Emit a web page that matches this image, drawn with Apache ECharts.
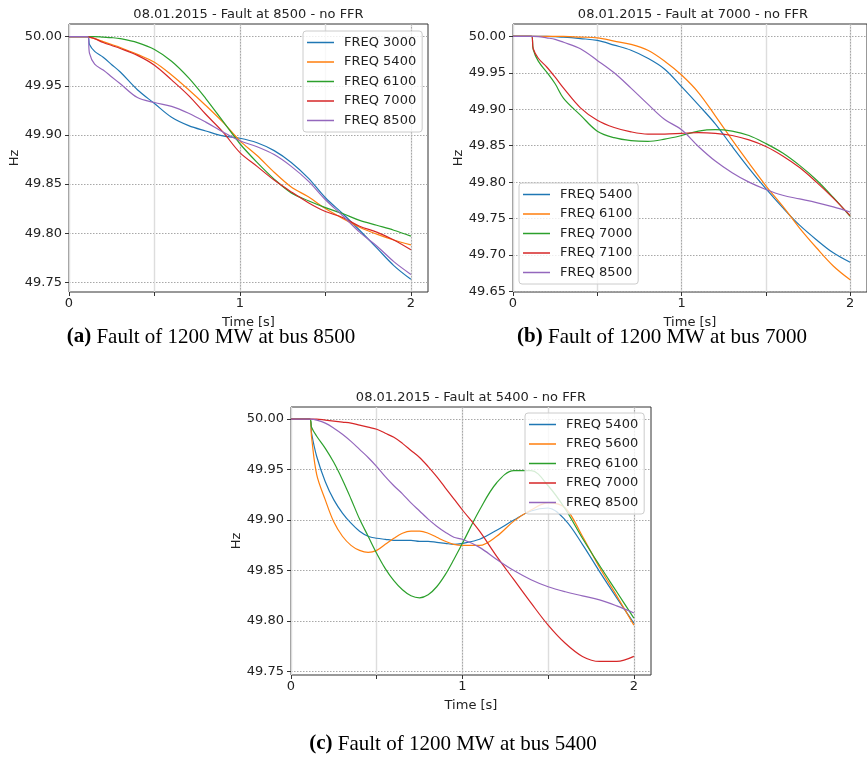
<!DOCTYPE html>
<html>
<head>
<meta charset="utf-8">
<script src="https://cdn.jsdelivr.net/npm/echarts@6/dist/echarts.min.js"></script>
<style>
html,body{margin:0;padding:0;background:#fff;}
#main{width:867px;height:762px;}
</style>
</head>
<body>
<div id="main"></div>
<script>
// ---------- data ----------
const timesA = [0,0.11,0.12,0.15,0.2,0.25,0.3,0.4,0.5,0.6,0.7,0.8,0.9,1.0,1.1,1.2,1.3,1.4,1.5,1.6,1.7,1.8,1.9,2.0];
const freqA3000 = [50,50,49.992,49.985,49.979,49.9715,49.964,49.946,49.932,49.918,49.9095,49.904,49.899,49.8966,49.892,49.884,49.872,49.856,49.836,49.820,49.803,49.785,49.767,49.753];
const freqA5400 = [50,50,49.9995,49.998,49.995,49.992,49.989,49.982,49.974,49.961,49.946,49.930,49.913,49.894,49.879,49.862,49.847,49.837,49.825,49.815,49.806,49.799,49.793,49.788];
const freqA6100 = [50,50,50,50,49.9995,49.999,49.998,49.994,49.987,49.975,49.958,49.937,49.914,49.891,49.872,49.855,49.841,49.833,49.826,49.820,49.813,49.808,49.803,49.797];
const freqA7000 = [50,50,49.9995,49.998,49.994,49.991,49.988,49.981,49.971,49.956,49.940,49.921,49.903,49.882,49.868,49.854,49.842,49.831,49.822,49.816,49.807,49.801,49.793,49.783];
const freqA8500 = [50,50,49.983,49.972,49.966,49.959,49.952,49.938,49.933,49.929,49.922,49.913,49.903,49.894,49.888,49.880,49.868,49.853,49.834,49.818,49.801,49.787,49.771,49.758];

const timesB = [0,0.11,0.12,0.15,0.2,0.25,0.3,0.4,0.5,0.6,0.7,0.8,0.9,1.0,1.1,1.2,1.3,1.4,1.5,1.6,1.7,1.8,1.9,2.0];
const freqB5400 = [50,50,50,50,50,49.9995,49.999,49.997,49.9945,49.988,49.981,49.970,49.955,49.931,49.906,49.880,49.849,49.819,49.791,49.765,49.741,49.721,49.703,49.690];
const freqB6100 = [50,50,50,50,50,50,50,49.999,49.998,49.9936,49.989,49.981,49.966,49.947,49.923,49.891,49.858,49.826,49.795,49.767,49.737,49.710,49.685,49.666];
const freqB7000 = [50,50,49.982,49.966,49.951,49.935,49.915,49.892,49.870,49.861,49.857,49.856,49.859,49.864,49.870,49.872,49.870,49.864,49.853,49.840,49.823,49.803,49.779,49.753];
const freqB7100 = [50,50,49.983,49.970,49.958,49.944,49.929,49.902,49.885,49.875,49.869,49.866,49.866,49.867,49.868,49.867,49.864,49.858,49.849,49.836,49.820,49.800,49.778,49.754];
const freqB8500 = [50,50,50,49.9998,49.998,49.996,49.992,49.983,49.967,49.950,49.929,49.907,49.886,49.872,49.849,49.829,49.813,49.800,49.790,49.782,49.777,49.772,49.766,49.759];

const timesC = [0,0.11,0.12,0.15,0.2,0.25,0.3,0.35,0.4,0.45,0.5,0.55,0.6,0.65,0.7,0.75,0.8,0.85,0.9,0.95,1.0,1.1,1.2,1.3,1.4,1.5,1.6,1.7,1.8,1.9,2.0];
const freqC5400 = [50,50,49.986,49.963,49.938,49.920,49.907,49.897,49.889,49.884,49.882,49.881,49.880,49.880,49.880,49.879,49.879,49.878,49.877,49.876,49.877,49.881,49.890,49.900,49.909,49.912,49.900,49.876,49.849,49.823,49.798];
const freqC5600 = [50,50,49.982,49.945,49.920,49.898,49.884,49.875,49.870,49.868,49.870,49.876,49.882,49.887,49.889,49.889,49.887,49.883,49.879,49.876,49.875,49.875,49.884,49.899,49.910,49.917,49.912,49.884,49.853,49.825,49.796];
const freqC6100 = [50,50,49.992,49.983,49.971,49.957,49.940,49.921,49.901,49.884,49.867,49.852,49.840,49.831,49.825,49.823,49.826,49.834,49.846,49.861,49.877,49.910,49.937,49.949,49.949,49.934,49.911,49.882,49.855,49.829,49.803];
const freqC7000 = [50,50,50,50,49.999,49.998,49.997,49.996,49.994,49.992,49.990,49.986,49.982,49.976,49.969,49.962,49.953,49.943,49.932,49.921,49.910,49.889,49.864,49.841,49.818,49.796,49.778,49.765,49.760,49.760,49.765];
const freqC8500 = [50,50,50,49.999,49.996,49.991,49.985,49.978,49.970,49.962,49.953,49.943,49.934,49.926,49.917,49.909,49.901,49.894,49.888,49.883,49.881,49.873,49.861,49.850,49.841,49.834,49.829,49.825,49.821,49.815,49.808];

const namesA = ['FREQ 3000','FREQ 5400','FREQ 6100','FREQ 7000','FREQ 8500'];
const namesB = ['FREQ 5400','FREQ 6100','FREQ 7000','FREQ 7100','FREQ 8500'];
const namesC = ['FREQ 5400','FREQ 5600','FREQ 6100','FREQ 7000','FREQ 8500'];

const titleA = '08.01.2015 - Fault at 8500 - no FFR';
const titleB = '08.01.2015 - Fault at 7000 - no FFR';
const titleC = '08.01.2015 - Fault at 5400 - no FFR';

const captionA = ['(a)', 'Fault of 1200 MW at bus 8500'];
const captionB = ['(b)', 'Fault of 1200 MW at bus 7000'];
const captionC = ['(c)', 'Fault of 1200 MW at bus 5400'];

const xTickValues = [0, 0.5, 1, 1.5, 2];
const xLabelValues = [0, 1, 2];
const xMajorGrid = [1, 2];
const yTicksA = [49.75, 49.80, 49.85, 49.90, 49.95, 50.00];
const yTicksB = [49.65, 49.70, 49.75, 49.80, 49.85, 49.90, 49.95, 50.00];
const yTicksC = [49.75, 49.80, 49.85, 49.90, 49.95, 50.00];

// ---------- styling / layout ----------
const COLORS = ['#1f77b4', '#ff7f0e', '#2ca02c', '#d62728', '#9467bd'];
const FONT = 'DejaVu Sans';
const TXT = '#222';
// line-shaped legend handle (27x13 box, 1.4px line in the middle)
const LEGEND_ICON = 'path://M0,0h0.01v0.01h-0.01z M0,5.8h27v1.4h-27z M26.99,12.99h0.01v0.01h-0.01z';

const panels = [
  { key: 'a', times: timesA, series: [freqA3000, freqA5400, freqA6100, freqA7000, freqA8500], names: namesA,
    title: titleA, yTicks: yTicksA, ymin: 49.7401, ymax: 50.0129,
    grid: { left: 69, top: 24, width: 359, height: 268 },
    legend: { left: 303, top: 31 },
    caption: captionA, capPos: [211, 337] },
  { key: 'b', times: timesB, series: [freqB5400, freqB6100, freqB7000, freqB7100, freqB8500], names: namesB,
    title: titleB, yTicks: yTicksB, ymin: 49.6493, ymax: 50.0170,
    grid: { left: 513, top: 24, width: 360, height: 268 },
    legend: { left: 519, top: 183 },
    caption: captionB, capPos: [662, 337] },
  { key: 'c', times: timesC, series: [freqC5400, freqC5600, freqC6100, freqC7000, freqC8500], names: namesC,
    title: titleC, yTicks: yTicksC, ymin: 49.7466, ymax: 50.0120,
    grid: { left: 291, top: 407, width: 360, height: 268 },
    legend: { left: 525, top: 413 },
    caption: captionC, capPos: [453, 744] }
];

const option = {
  animation: false,
  backgroundColor: '#fff',
  title: [], grid: [], xAxis: [], yAxis: [], legend: [], series: [], graphic: []
};

panels.forEach((p, i) => {
  const g = p.grid;
  option.grid.push({ left: g.left, top: g.top, width: g.width, height: g.height,
    show: true, borderColor: '#333', borderWidth: 1, backgroundColor: 'transparent', containLabel: false });

  option.title.push({
    text: p.title, left: g.left + g.width / 2, top: g.top - 16, textAlign: 'center', padding: 0,
    textStyle: { fontFamily: FONT, fontSize: 13, fontWeight: 'normal', color: TXT }
  });

  // main x axis
  option.xAxis.push({
    gridIndex: i, type: 'value', min: 0, max: 2.1,
    axisLine: { show: false },
    axisTick: { show: true, customValues: xTickValues, length: 4, lineStyle: { color: '#333', width: 1 } },
    axisLabel: { show: true, customValues: xLabelValues, margin: 5, fontFamily: FONT, fontSize: 13, color: TXT,
      formatter: v => String(v) },
    splitLine: { show: true, lineStyle: { color: '#dddddd', width: 1.4 } },
    name: 'Time [s]', nameLocation: 'middle', nameGap: 24,
    nameTextStyle: { fontFamily: FONT, fontSize: 13, color: TXT }
  });
  // dotted major vertical grid overlay
  option.xAxis.push({
    gridIndex: i, type: 'value', min: 0, max: 2.1, position: 'bottom',
    axisLine: { show: false },
    axisTick: { show: false, customValues: xMajorGrid },
    axisLabel: { show: false },
    splitLine: { show: true, lineStyle: { color: '#a8a8a8', width: 1, type: [1.5, 1.5] } }
  });

  option.yAxis.push({
    gridIndex: i, type: 'value', min: p.ymin, max: p.ymax,
    axisLine: { show: false },
    axisTick: { show: true, customValues: p.yTicks, length: 4, lineStyle: { color: '#333', width: 1 } },
    axisLabel: { show: true, customValues: p.yTicks, margin: 7, fontFamily: FONT, fontSize: 13, color: TXT,
      formatter: v => v.toFixed(2) },
    splitLine: { show: true, lineStyle: { color: '#a8a8a8', width: 1, type: [1.5, 1.5] } },
    name: 'Hz', nameLocation: 'middle', nameGap: 48,
    nameTextStyle: { fontFamily: FONT, fontSize: 13, color: TXT }
  });

  const legendData = [];
  p.series.forEach((vals, k) => {
    const nm = p.key + '|' + p.names[k];
    legendData.push({ name: nm, icon: LEGEND_ICON });
    option.series.push({
      type: 'line', name: nm, xAxisIndex: i * 2, yAxisIndex: i,
      data: p.times.map((t, j) => [t, vals[j]]),
      symbol: 'none', showSymbol: false, smooth: 0.35, clip: true,
      color: COLORS[k],
      lineStyle: { color: COLORS[k], width: 1.2 },
      emphasis: { disabled: true }
    });
  });

  option.legend.push({
    orient: 'vertical', left: p.legend.left, top: p.legend.top,
    data: legendData, formatter: n => n.split('|')[1],
    icon: LEGEND_ICON,
    itemWidth: 27, itemHeight: 13, itemGap: 6.5,
    padding: [5, 6, 5, 4],
    backgroundColor: 'rgba(255,255,255,0.8)', borderColor: '#cccccc', borderWidth: 1, borderRadius: 3,
    textStyle: { fontFamily: FONT, fontSize: 13, color: TXT, padding: [0, 0, 0, 5] },
    selectedMode: false, z: 10
  });

  option.graphic.push({
    type: 'text', x: p.capPos[0], y: p.capPos[1],
    style: {
      text: '{b|' + p.caption[0] + '} ' + p.caption[1],
      fontFamily: 'Liberation Serif', fontSize: 21, fill: '#000',
      align: 'center', verticalAlign: 'middle',
      rich: { b: { fontFamily: 'Liberation Serif', fontSize: 21, fontWeight: 'bold', fill: '#000' } }
    }
  });
});

const chart = echarts.init(document.getElementById('main'), null, { renderer: 'canvas' });
chart.setOption(option);
</script>
</body>
</html>
